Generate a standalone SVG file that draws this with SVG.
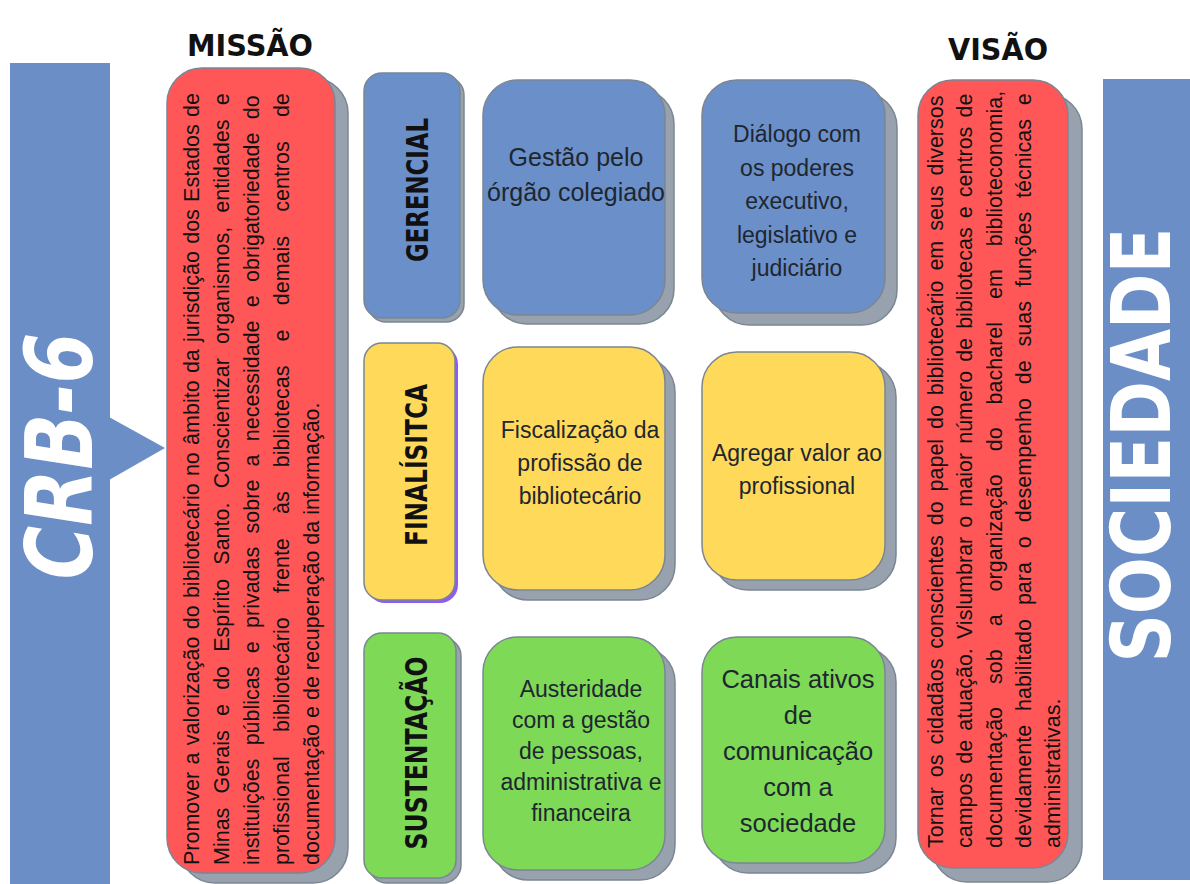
<svg xmlns="http://www.w3.org/2000/svg" width="1190" height="884" viewBox="0 0 1190 884">
<style>
.bg{fill:#ffffff}
.bar{fill:#6b8ec6}
.sh{fill:#97a2ae;stroke:#7b8692;stroke-width:1.5}
.shp{fill:#8c5cf5}
.bd{stroke:#7b8692;stroke-width:1.5}
.blue{fill:#6b8fc8}
.red{fill:#ff5757}
.yellow{fill:#ffd95a}
.green{fill:#7ed957}
.head{font-family:"DejaVu Sans",sans-serif;font-weight:bold;fill:#111;text-anchor:middle}
.big{font-family:"DejaVu Sans",sans-serif;font-weight:bold;fill:#ffffff;text-anchor:middle}
.lab{font-family:"DejaVu Sans Condensed","DejaVu Sans",sans-serif;font-weight:bold;fill:#111;text-anchor:middle;font-size:31px}
.para{font-family:"Liberation Sans",Arial,sans-serif;font-size:21.5px;fill:#111}
.cnt{font-family:"Liberation Sans",Arial,sans-serif;font-size:23px;fill:#1e2630;text-anchor:middle}
.cnt25{font-size:25px}
.cnt27{font-size:25.5px}
</style>
<rect class="bg" x="0" y="0" width="1190" height="884"/>

<g id="crb6">
  <rect class="bar" x="10" y="63" width="100" height="821"/>
  <polygon class="bar" points="109,417 165,448 109,480"/>
  <text class="big" font-size="92" font-style="italic" transform="translate(92,456) rotate(-90)" textLength="247" lengthAdjust="spacingAndGlyphs">CRB-6</text>
</g>

<g id="sociedade">
  <rect class="bar" x="1103" y="79" width="87" height="801"/>
  <text class="big" font-size="82" transform="translate(1170,445) rotate(-90)" textLength="435" lengthAdjust="spacingAndGlyphs">SOCIEDADE</text>
</g>

<g id="missao">
  <text class="head" x="250" y="56" font-size="30" textLength="126" lengthAdjust="spacingAndGlyphs">MISSÃO</text>
  <rect class="sh" x="180" y="78" width="168" height="805" rx="35"/>
  <rect class="red bd" x="167" y="68" width="168" height="805" rx="35"/>
  <g class="para">
    <text transform="translate(199,865) rotate(-90)" word-spacing="1.3">Promover a valorização do bibliotecário no âmbito da jurisdição dos Estados de</text>
    <text transform="translate(229,865) rotate(-90)" word-spacing="8.2">Minas Gerais e do Espírito Santo. Conscientizar organismos, entidades e</text>
    <text transform="translate(259,865) rotate(-90)" word-spacing="7.3">instituições públicas e privadas sobre a necessidade e obrigatoriedade do</text>
    <text transform="translate(289,865) rotate(-90)" word-spacing="18.2">profissional bibliotecário frente às bibliotecas e demais centros de</text>
    <text transform="translate(319,865) rotate(-90)">documentação e de recuperação da informação.</text>
  </g>
</g>

<g id="visao">
  <text class="head" x="998" y="60" font-size="30" textLength="100" lengthAdjust="spacingAndGlyphs">VISÃO</text>
  <rect class="sh" x="932" y="94" width="150" height="788" rx="35"/>
  <rect class="red bd" x="918" y="80" width="150" height="788" rx="35"/>
  <g class="para">
    <text transform="translate(943,848) rotate(-90)" word-spacing="3.9">Tornar os cidadãos conscientes do papel do bibliotecário em seus diversos</text>
    <text transform="translate(972,848) rotate(-90)" word-spacing="3.1">campos de atuação. Vislumbrar o maior número de bibliotecas e centros de</text>
    <text transform="translate(1002,848) rotate(-90)" word-spacing="17">documentação sob a organização do bacharel em biblioteconomia,</text>
    <text transform="translate(1031,848) rotate(-90)" word-spacing="7.9">devidamente habilitado para o desempenho de suas funções técnicas e</text>
    <text transform="translate(1060,848) rotate(-90)">administrativas.</text>
  </g>
</g>

<g id="gerencial">
  <rect class="sh" x="368" y="77" width="96" height="245" rx="18"/>
  <rect class="blue bd" x="364" y="73" width="96" height="245" rx="18"/>
  <text class="lab" transform="translate(428,190) rotate(-90)" textLength="144" lengthAdjust="spacingAndGlyphs">GERENCIAL</text>
</g>

<g id="finalisitca">
  <rect class="shp" x="367" y="346" width="91" height="257" rx="18"/>
  <rect class="yellow bd" x="364" y="343" width="91" height="257" rx="18"/>
  <text class="lab" transform="translate(427,465) rotate(-90)" textLength="162" lengthAdjust="spacingAndGlyphs">FINALÍSITCA</text>
</g>

<g id="sustentacao">
  <rect class="sh" x="369" y="638" width="92" height="245" rx="18"/>
  <rect class="green bd" x="364" y="633" width="92" height="245" rx="18"/>
  <text class="lab" transform="translate(427,753) rotate(-90)" textLength="193" lengthAdjust="spacingAndGlyphs">SUSTENTAÇÃO</text>
</g>

<g id="gestao">
  <rect class="sh" x="492" y="89" width="182" height="235" rx="35"/>
  <rect class="blue bd" x="483" y="80" width="182" height="235" rx="35"/>
  <text class="cnt cnt25" x="576" y="166">Gestão pelo</text>
  <text class="cnt cnt25" x="576" y="201">órgão colegiado</text>
</g>

<g id="dialogo">
  <rect class="sh" x="714" y="92" width="183" height="233" rx="35"/>
  <rect class="blue bd" x="702" y="80" width="183" height="233" rx="35"/>
  <text class="cnt" x="797" y="142">Diálogo com</text>
  <text class="cnt" x="797" y="176">os poderes</text>
  <text class="cnt" x="797" y="209">executivo,</text>
  <text class="cnt" x="797" y="243">legislativo e</text>
  <text class="cnt" x="797" y="276">judiciário</text>
</g>

<g id="fiscalizacao">
  <rect class="sh" x="493" y="357" width="182" height="243" rx="35"/>
  <rect class="yellow bd" x="483" y="347" width="182" height="243" rx="35"/>
  <text class="cnt" x="580" y="438">Fiscalização da</text>
  <text class="cnt" x="580" y="471">profissão de</text>
  <text class="cnt" x="580" y="504">bibliotecário</text>
</g>

<g id="agregar">
  <rect class="sh" x="713" y="362" width="183" height="228" rx="35"/>
  <rect class="yellow bd" x="702" y="352" width="183" height="228" rx="35"/>
  <text class="cnt" x="797" y="461">Agregar valor ao</text>
  <text class="cnt" x="797" y="494">profissional</text>
</g>

<g id="austeridade">
  <rect class="sh" x="493" y="647" width="182" height="233" rx="35"/>
  <rect class="green bd" x="483" y="637" width="182" height="233" rx="35"/>
  <text class="cnt" x="581" y="697">Austeridade</text>
  <text class="cnt" x="581" y="728">com a gestão</text>
  <text class="cnt" x="581" y="759">de pessoas,</text>
  <text class="cnt" x="581" y="790">administrativa e</text>
  <text class="cnt" x="581" y="821">financeira</text>
</g>

<g id="canais">
  <rect class="sh" x="713" y="647" width="183" height="226" rx="35"/>
  <rect class="green bd" x="702" y="637" width="183" height="226" rx="35"/>
  <text class="cnt cnt27" x="798" y="688">Canais ativos</text>
  <text class="cnt cnt27" x="798" y="724">de</text>
  <text class="cnt cnt27" x="798" y="760">comunicação</text>
  <text class="cnt cnt27" x="798" y="796">com a</text>
  <text class="cnt cnt27" x="798" y="832">sociedade</text>
</g>

<g id="connectors"></g>
</svg>
